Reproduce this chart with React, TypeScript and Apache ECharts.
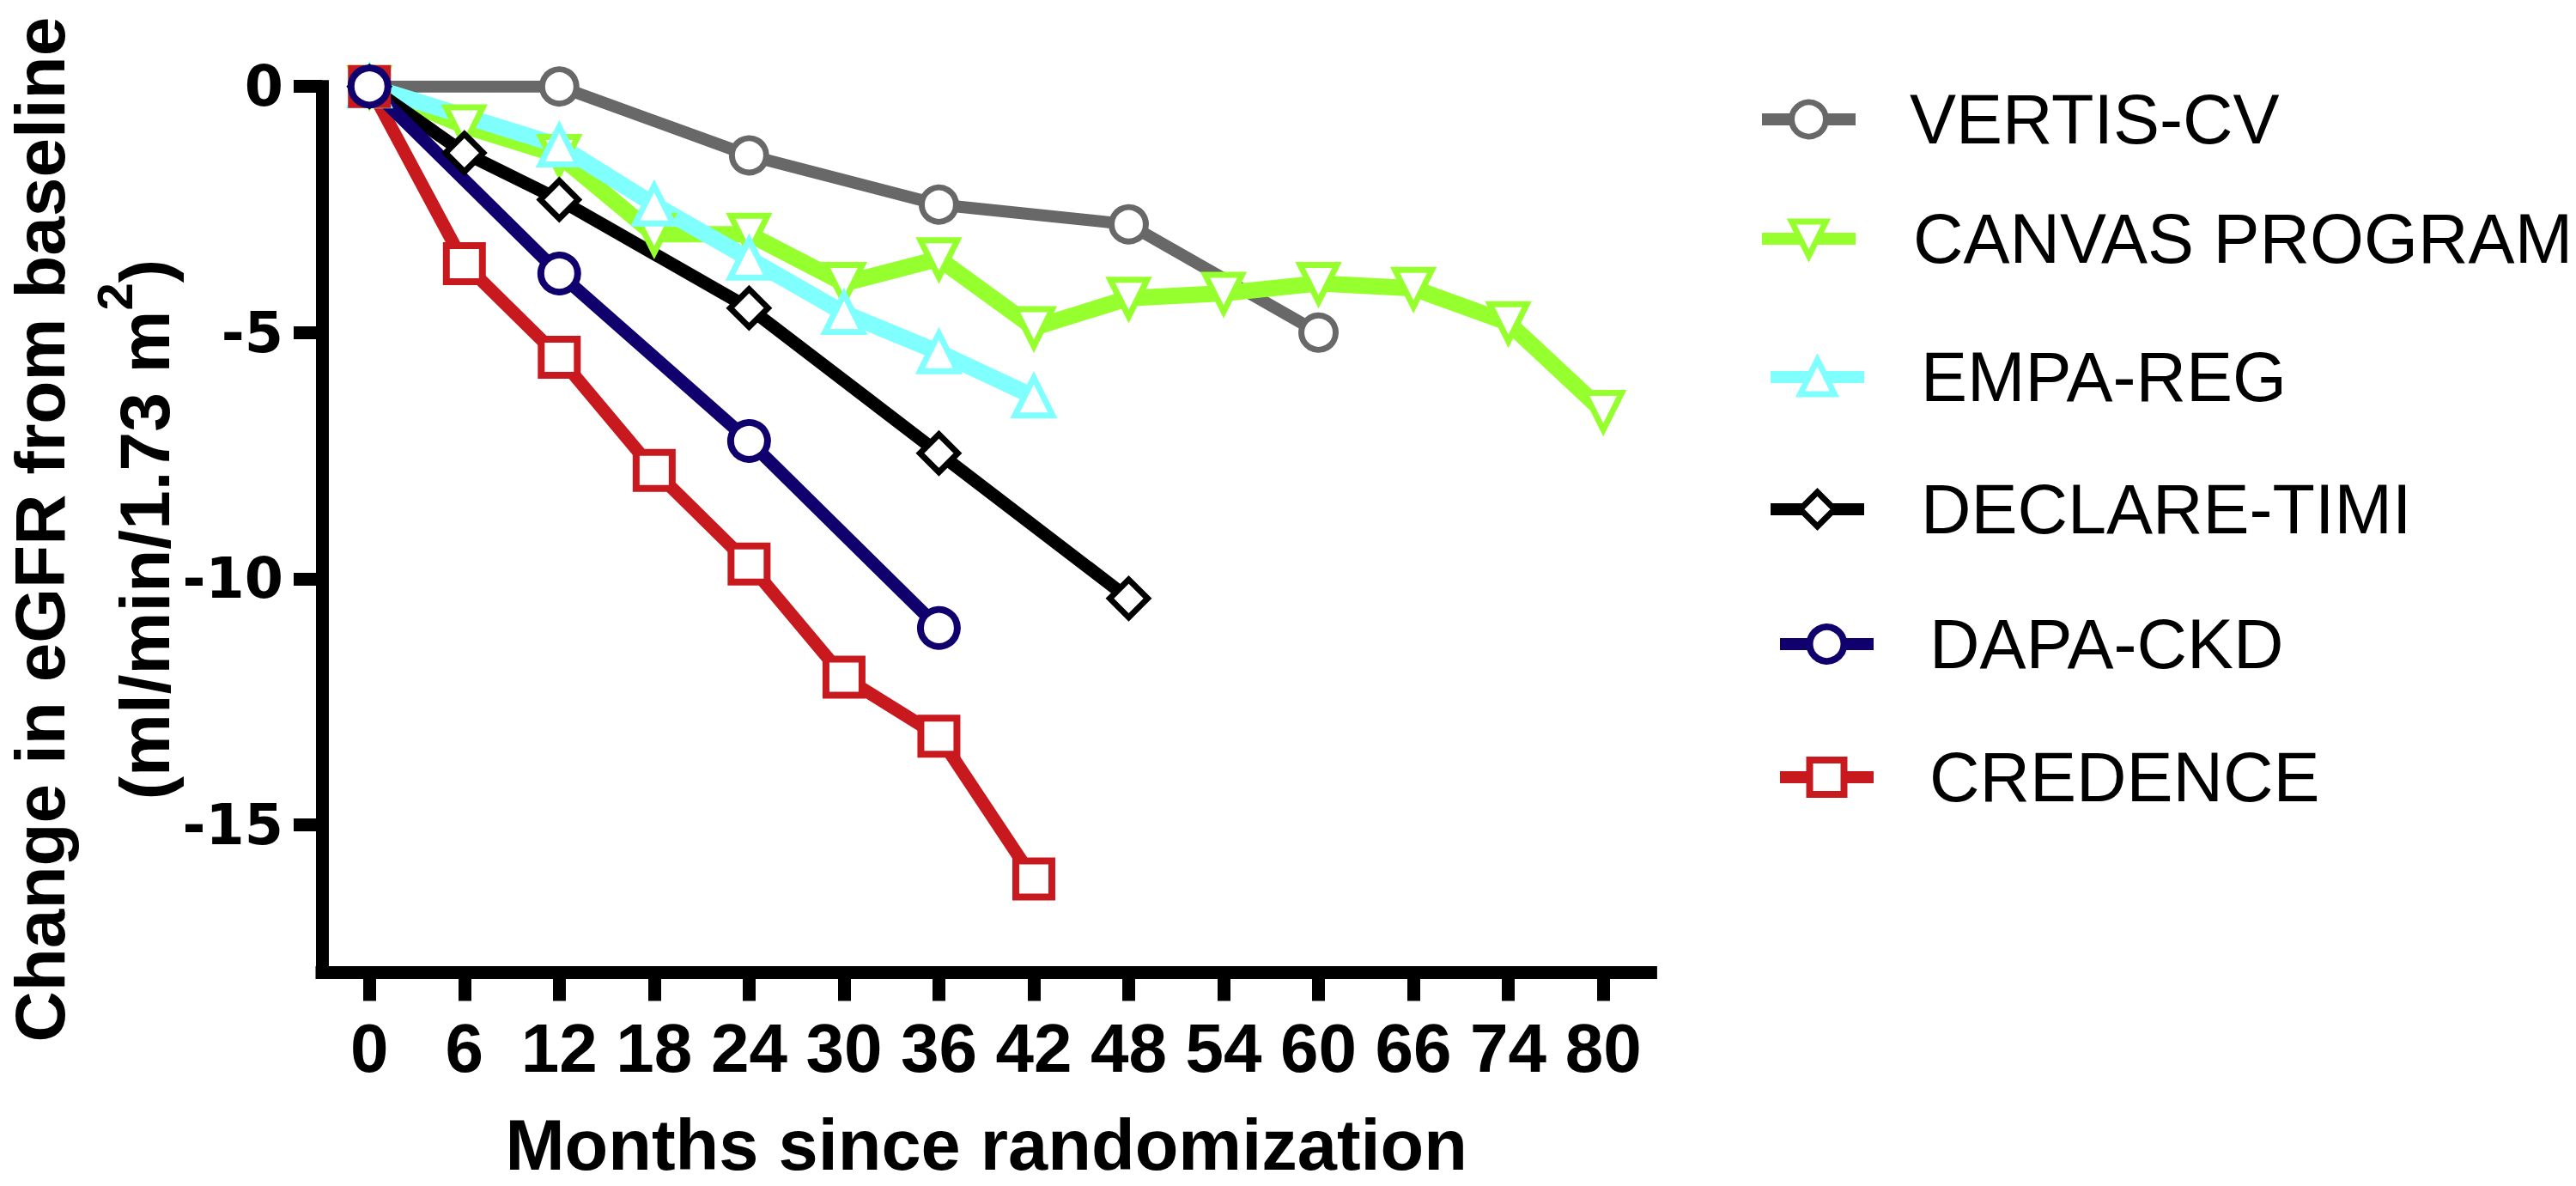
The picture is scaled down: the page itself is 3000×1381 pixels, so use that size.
import React, { useEffect, useRef } from "react";
import * as echarts from "echarts";

// ---- Data ----
const months = ["0", "6", "12", "18", "24", "30", "36", "42", "48", "54", "60", "66", "74", "80"];
const yTicks = [0, -5, -10, -15];

const vertisMonths = [0, 12, 24, 36, 48, 60];
const vertisValues = [0, 0, -1.4, -2.4, -2.8, -5.0];

const canvasMonths = [0, 6, 12, 18, 24, 30, 36, 42, 48, 54, 60, 66, 74, 80];
const canvasValues = [0, -0.8, -1.4, -3.0, -3.0, -4.0, -3.5, -4.9, -4.3, -4.2, -4.0, -4.1, -4.8, -6.6];

const empaMonths = [0, 12, 18, 24, 30, 36, 42];
const empaValues = [0, -1.2, -2.4, -3.5, -4.6, -5.4, -6.3];

const declareMonths = [0, 6, 12, 24, 36, 48];
const declareValues = [0, -1.35, -2.3, -4.5, -7.45, -10.4];

const dapaMonths = [0, 12, 24, 36];
const dapaValues = [0, -3.8, -7.2, -11.0];

const credenceMonths = [0, 6, 12, 18, 24, 30, 36, 42];
const credenceValues = [0, -3.6, -5.5, -7.8, -9.7, -12.0, -13.2, -16.1];

const names = ["VERTIS-CV", "CANVAS PROGRAM", "EMPA-REG", "DECLARE-TIMI", "DAPA-CKD", "CREDENCE"];

const SANS = "'Liberation Sans', Arial, Helvetica, sans-serif";

function pairs(ms: number[], vs: number[]) {
  return ms.map((m, i) => [String(m), vs[i]]);
}

function lineSeries(
  name: string,
  data: any[],
  color: string,
  symbol: string,
  size: number,
  border: number,
  width: number,
  rotate = 0
) {
  return {
    type: "line",
    name,
    data,
    connectNulls: true,
    symbol,
    symbolSize: size,
    symbolRotate: rotate,
    showAllSymbol: true,
    lineStyle: { color, width, cap: "butt", join: "miter" },
    itemStyle: { color: "#ffffff", borderColor: color, borderWidth: border },
    emphasis: { disabled: true },
    z: 2,
  };
}

const LEGEND_FONT = 81;

function legendFor(name: string, left: number, cy: number, textPad: number, border: number) {
  return {
    data: [name],
    left,
    top: cy - LEGEND_FONT / 2,
    orient: "vertical",
    padding: 0,
    itemGap: 0,
    itemWidth: 109,
    itemHeight: 50,
    selectedMode: false,
    itemStyle: { borderWidth: border },
    lineStyle: { width: 14 },
    textStyle: {
      fontFamily: SANS,
      fontSize: LEGEND_FONT,
      color: "#000",
      lineHeight: LEGEND_FONT,
      padding: [0, 0, 0, textPad],
    },
  };
}

export default function App() {
  const ref = useRef<HTMLDivElement>(null);

  useEffect(() => {
    if (!ref.current) return;
    const chart = echarts.init(ref.current, undefined, { renderer: "svg" });

    const option: any = {
      animation: false,
      backgroundColor: "#ffffff",
      grid: {
        left: 375,
        top: 100.7,
        right: 3000 - 1922.4,
        bottom: 1381 - 1132.5,
        containLabel: false,
        outerBoundsMode: "none",
      },
      legend: [
        legendFor(names[0], 2045, 139, 58, 7),
        legendFor(names[1], 2045, 278, 62, 7),
        legendFor(names[2], 2055, 439, 61, 7),
        legendFor(names[3], 2055, 593, 61, 7),
        legendFor(names[4], 2066, 750, 60, 8),
        legendFor(names[5], 2066, 905, 60, 8),
      ],
      xAxis: {
        type: "category",
        data: months,
        boundaryGap: true,
        name: "Months since randomization",
        nameLocation: "middle",
        nameGap: 159,
        nameMoveOverlap: false,
        nameTextStyle: {
          fontFamily: SANS,
          fontWeight: "bold",
          fontSize: 83,
          lineHeight: 83,
          color: "#000",
        },
        axisLine: {
          show: true,
          onZero: false,
          lineStyle: { color: "#000", width: 15, cap: "square" },
        },
        axisTick: {
          show: true,
          alignWithLabel: true,
          interval: 0,
          length: 33,
          lineStyle: { color: "#000", width: 15 },
        },
        axisLabel: {
          interval: 0,
          margin: 48,
          fontFamily: SANS,
          fontWeight: "bold",
          fontSize: 80,
          lineHeight: 80,
          color: "#000",
        },
        splitLine: { show: false },
      },
      yAxis: {
        type: "value",
        min: -18,
        max: 0,
        name: "{b|Change in eGFR from baseline}\n{a|(ml/min/1.73 m}{s|2}{a|)}",
        nameLocation: "middle",
        nameGap: 125,
        nameMoveOverlap: false,
        nameTextStyle: {
          fontFamily: SANS,
          fontWeight: "bold",
          fontSize: 82,
          color: "#000",
          rich: {
            b: {
              fontFamily: SANS,
              fontWeight: "bold",
              fontSize: 82,
              lineHeight: 80,
              verticalAlign: "middle",
              color: "#000",
            },
            a: {
              fontFamily: SANS,
              fontWeight: "bold",
              fontSize: 82,
              lineHeight: 164,
              verticalAlign: "middle",
              color: "#000",
            },
            s: {
              fontFamily: SANS,
              fontWeight: "bold",
              fontSize: 58,
              lineHeight: 58,
              verticalAlign: "middle",
              padding: [0, 0, 69, 0],
              color: "#000",
            },
          },
        },
        axisLine: {
          show: true,
          onZero: false,
          lineStyle: { color: "#000", width: 15, cap: "square" },
        },
        axisTick: {
          show: true,
          length: 33,
          customValues: yTicks,
          lineStyle: { color: "#000", width: 15 },
        },
        axisLabel: {
          customValues: yTicks,
          margin: 45,
          fontFamily: "'DejaVu Sans', sans-serif",
          fontWeight: "bold",
          fontSize: 65,
          color: "#000",
        },
        splitLine: { show: false },
      },
      series: [
        lineSeries(names[0], pairs(vertisMonths, vertisValues), "#686868", "circle", 40, 7, 14),
        lineSeries(names[1], pairs(canvasMonths, canvasValues), "#96FF2E", "triangle", 43, 7, 19, 180),
        lineSeries(names[2], pairs(empaMonths, empaValues), "#80FFFF", "triangle", 44, 7, 19),
        lineSeries(names[3], pairs(declareMonths, declareValues), "#000000", "diamond", 44, 7, 15),
        lineSeries(names[5], pairs(credenceMonths, credenceValues), "#C8191E", "rect", 42, 8, 15),
        lineSeries(names[4], pairs(dapaMonths, dapaValues), "#10006E", "circle", 43, 8, 15),
      ],
    };

    chart.setOption(option);
    return () => {
      chart.dispose();
    };
  }, []);

  return (
    <div
      ref={ref}
      style={{ position: "absolute", left: 0, top: 0, width: 3000, height: 1381, background: "#fff" }}
    />
  );
}
